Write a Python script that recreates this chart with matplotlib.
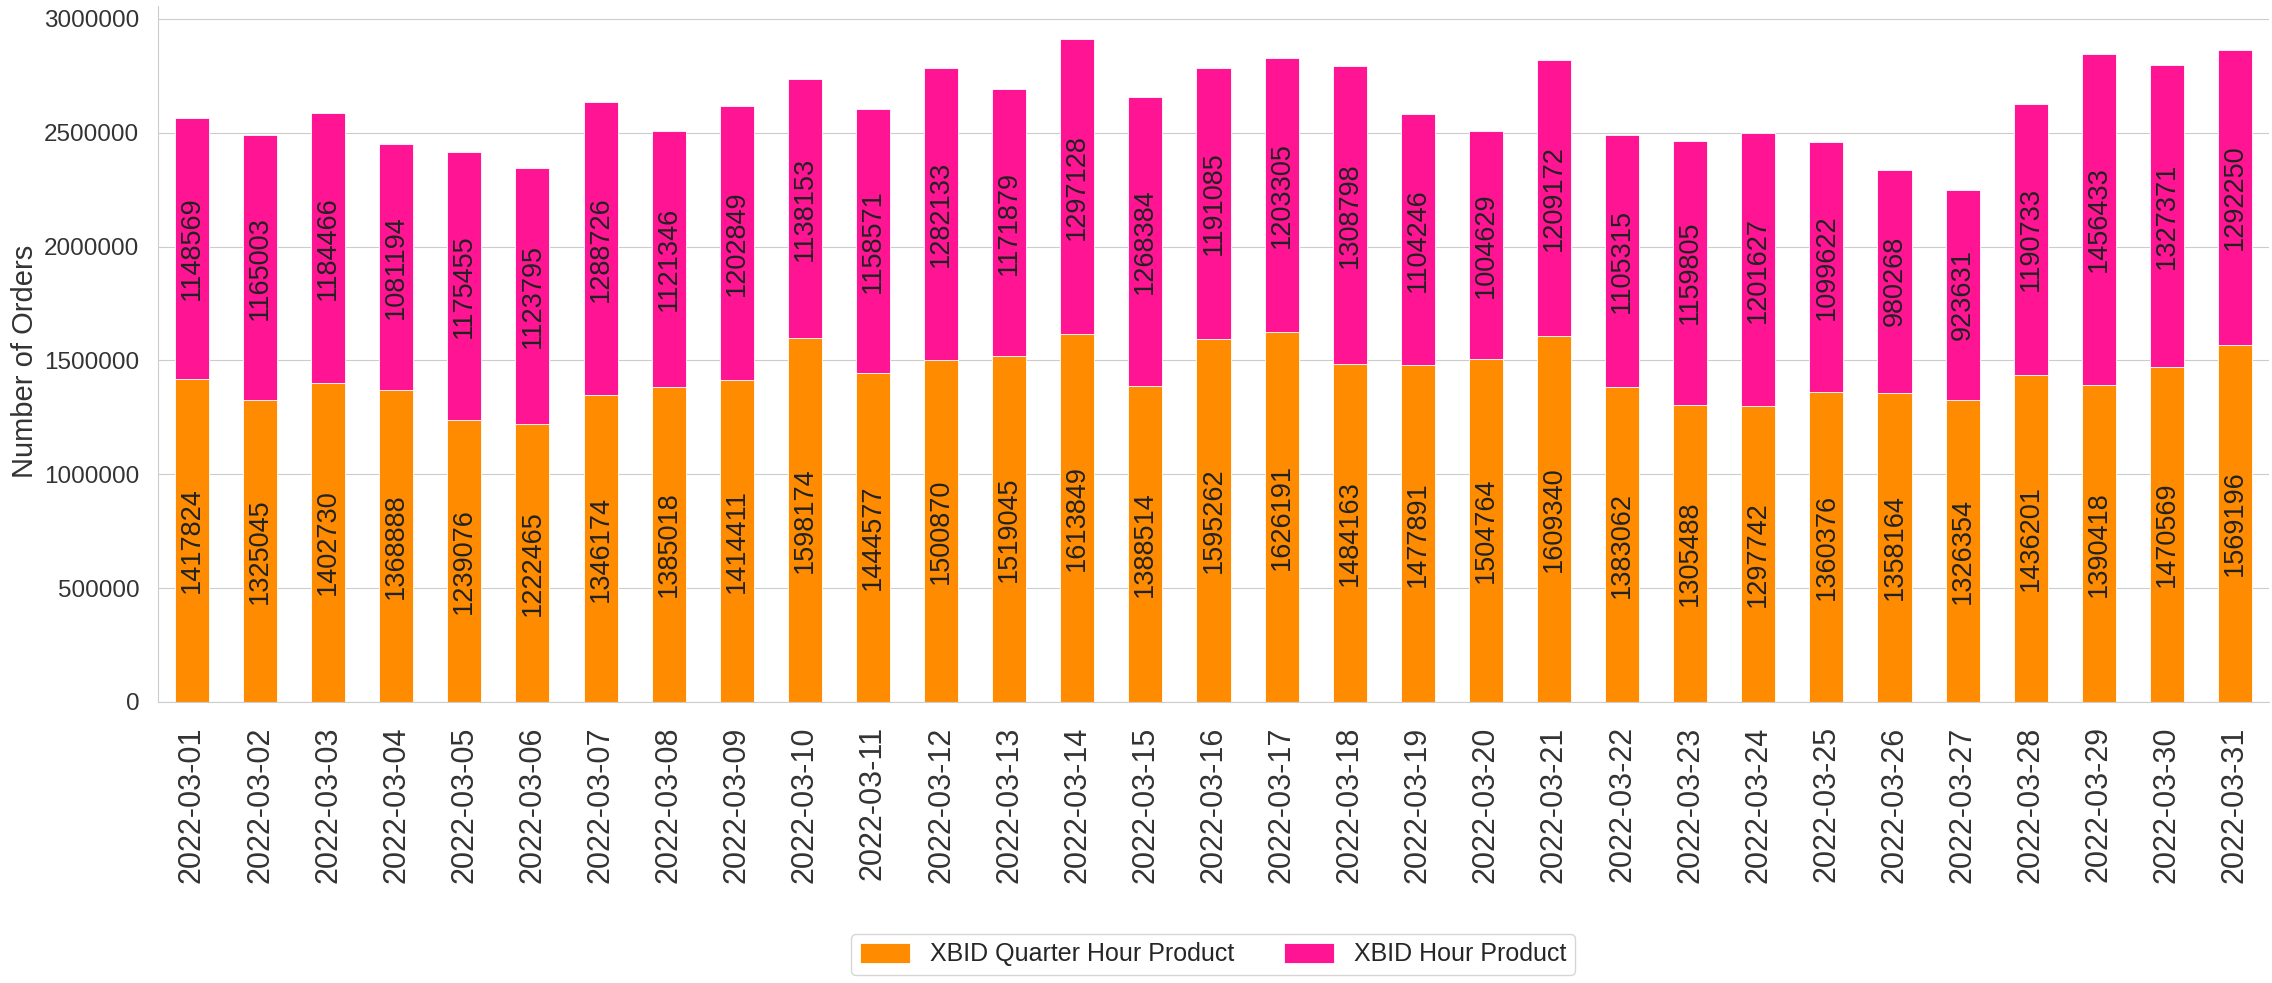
import matplotlib
matplotlib.use("Agg")
import matplotlib.pyplot as plt
import pandas as pd
import seaborn as sns

dates = ["2022-03-%02d" % d for d in range(1, 32)]
quarter_hour = [1417824, 1325045, 1402730, 1368888, 1239076, 1222465, 1346174, 1385018,
                1414411, 1598174, 1444577, 1500870, 1519045, 1613849, 1388514, 1595262,
                1626191, 1484163, 1477891, 1504764, 1609340, 1383062, 1305488, 1297742,
                1360376, 1358164, 1326354, 1436201, 1390418, 1470569, 1569196]
hour = [1148569, 1165003, 1184466, 1081194, 1175455, 1123795, 1288726, 1121346,
        1202849, 1138153, 1158571, 1282133, 1171879, 1297128, 1268384, 1191085,
        1203305, 1308798, 1104246, 1004629, 1209172, 1105315, 1159805, 1201627,
        1099622, 980268, 923631, 1190733, 1456433, 1327371, 1292250]
yticks = [0, 500000, 1000000, 1500000, 2000000, 2500000, 3000000]

sns.set_style("whitegrid")
plt.rcParams['font.family'] = ['Liberation Sans', 'DejaVu Sans']

df = pd.DataFrame({"XBID Quarter Hour Product": quarter_hour,
                   "XBID Hour Product": hour}, index=dates)

fig = plt.figure(figsize=(22.72, 9.83), dpi=100)
ax = fig.add_axes([0.0695, 0.2859, 0.9292, 0.708])
df.plot.bar(stacked=True, ax=ax, color=["#FF8C00", "#FF1493"],
            edgecolor="white", linewidth=0.6, legend=False)

for c in ax.containers:
    ax.bar_label(c, fmt="%d", label_type="center", rotation=90, fontsize=19.5, color="#222222")

ax.set_ylabel("Number of Orders", fontsize=21, color="#333333")
ax.yaxis.set_label_coords(-0.0565, 0.49)
ax.set_xlabel("")
ax.tick_params(axis="x", labelsize=22, pad=14, labelcolor="#333333")
ax.tick_params(axis="y", pad=10, labelcolor="#333333")
ax.set_yticks(yticks)
ax.set_yticklabels([str(v) for v in yticks], fontsize=17.5)
ax.grid(axis="x", visible=False)
sns.despine(ax=ax)

handles, labels = ax.get_legend_handles_labels()
fig.legend(handles, labels, loc="center", bbox_to_anchor=(0.534, 0.029), ncol=2,
           fontsize=18, frameon=True, edgecolor="#cccccc",
           handlelength=2.0, handleheight=0.85, columnspacing=2.0, borderpad=0.35)

fig.savefig("out.png", dpi=100)
